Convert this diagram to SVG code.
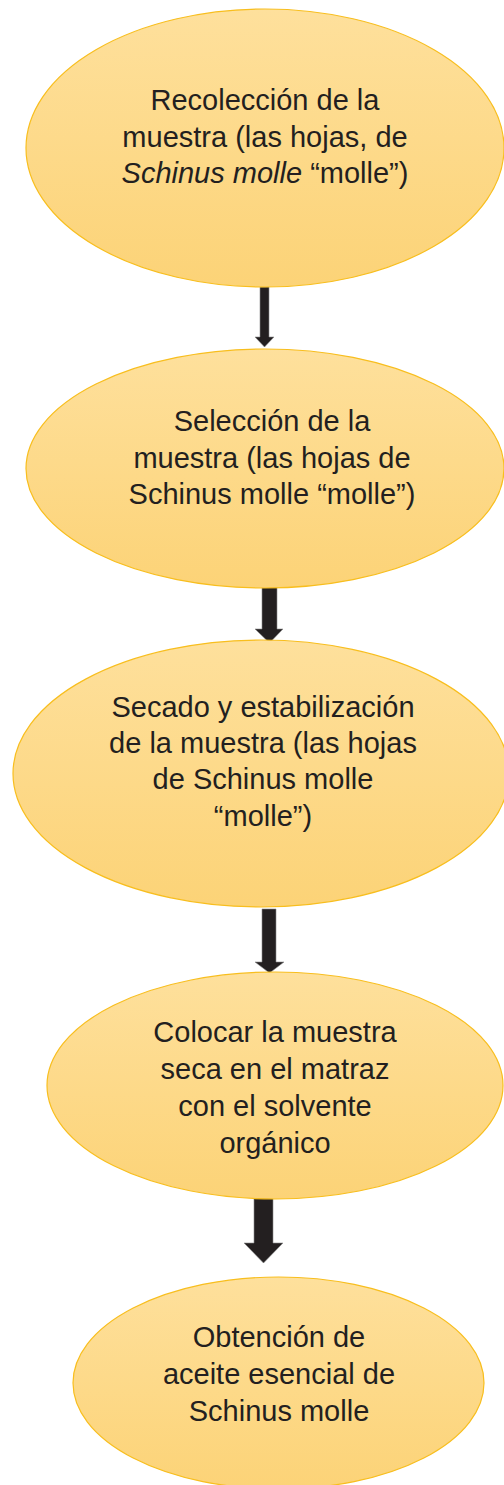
<svg xmlns="http://www.w3.org/2000/svg" width="504" height="1485" viewBox="0 0 504 1485">
<defs>
<linearGradient id="g" x1="0" y1="0" x2="0" y2="1">
<stop offset="0" stop-color="#FEE09C"/>
<stop offset="1" stop-color="#FCD377"/>
</linearGradient>
</defs>
<style>
.n{fill:url(#g);stroke:#F8BE1E;stroke-width:1.2}
.t{font-family:"Liberation Sans",Arial,sans-serif;font-size:29px;fill:#231F20;text-anchor:middle}
.a{fill:#231F20;stroke:#8a8a8a;stroke-width:0.6}
</style>
<rect width="504" height="1485" fill="#FFFFFF"/>
<g id="connectors">
<path class="a" d="M260,287 H269 V337 H274 L264.5,347 L255,337 H260 Z"/>
<path class="a" d="M262,587 H277 V629 H283 L269.5,643 L255,629 H262 Z"/>
<path class="a" d="M262,909 H276 V962 H284 L269.5,973 L255,962 H262 Z"/>
<path class="a" d="M254,1197 H273 V1243 H283 L263.5,1263 L244,1243 H254 Z"/>
</g>
<g id="n1">
<ellipse class="n" cx="265" cy="148" rx="239" ry="139"/>
<text class="t" x="265" y="110">Recolección de la</text>
<text class="t" x="265" y="147">muestra (las hojas, de</text>
<text class="t" x="265" y="183"><tspan font-style="italic">Schinus molle</tspan> “molle”)</text>
</g>
<g id="n2">
<ellipse class="n" cx="265" cy="468.5" rx="239" ry="119.5"/>
<text class="t" x="272" y="431">Selección de la</text>
<text class="t" x="272" y="468">muestra (las hojas de</text>
<text class="t" x="272" y="504">Schinus molle “molle”)</text>
</g>
<g id="n3">
<ellipse class="n" cx="261" cy="773.5" rx="248" ry="133.5"/>
<text class="t" x="263" y="717">Secado y estabilización</text>
<text class="t" x="263" y="753">de la muestra (las hojas</text>
<text class="t" x="263" y="789">de Schinus molle</text>
<text class="t" x="263" y="826">“molle”)</text>
</g>
<g id="n4">
<ellipse class="n" cx="275" cy="1085.5" rx="228" ry="113.5"/>
<text class="t" x="275" y="1042">Colocar la muestra</text>
<text class="t" x="275" y="1079">seca en el matraz</text>
<text class="t" x="275" y="1116">con el solvente</text>
<text class="t" x="275" y="1153">orgánico</text>
</g>
<g id="n5">
<ellipse class="n" cx="278.5" cy="1383" rx="205.5" ry="106"/>
<text class="t" x="279" y="1347">Obtención de</text>
<text class="t" x="279" y="1384">aceite esencial de</text>
<text class="t" x="279" y="1421">Schinus molle</text>
</g>
</svg>
